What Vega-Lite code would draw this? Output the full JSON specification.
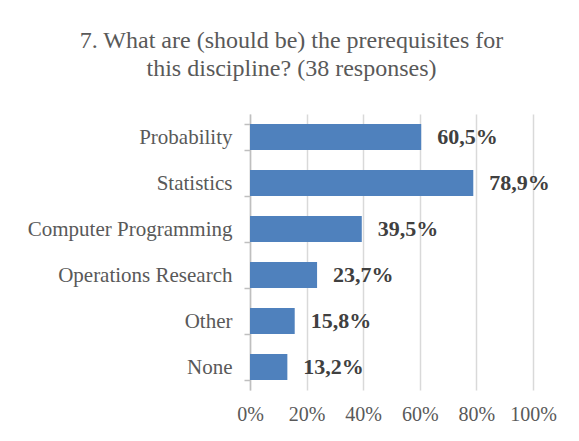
{
  "$schema": "https://vega.github.io/schema/vega-lite/v6.json",
  "width": 283,
  "height": 276,
  "autosize": {"type": "none"},
  "padding": {"left": 250, "top": 114, "right": 46, "bottom": 51},
  "background": "white",
  "config": {
    "font": "Liberation Serif",
    "view": {"stroke": null},
    "locale": {"number": {"decimal": ",", "thousands": ".", "grouping": [3], "currency": ["", " €"]}}
  },
  "title": {
    "text": ["7. What are (should be) the prerequisites for", "this discipline? (38 responses)"],
    "font": "Liberation Serif",
    "fontSize": 24,
    "fontWeight": "normal",
    "color": "#595959",
    "lineHeight": 28,
    "anchor": "middle",
    "dx": -100,
    "offset": 22
  },
  "data": {
    "values": [
      {"category": "Probability", "share": 0.605},
      {"category": "Statistics", "share": 0.789},
      {"category": "Computer Programming", "share": 0.395},
      {"category": "Operations Research", "share": 0.237},
      {"category": "Other", "share": 0.158},
      {"category": "None", "share": 0.132}
    ]
  },
  "encoding": {
    "y": {
      "field": "category",
      "type": "nominal",
      "sort": null,
      "title": null,
      "scale": {"paddingInner": 0.43, "paddingOuter": 0.215},
      "axis": {
        "labelFont": "Liberation Serif",
        "labelFontSize": 21,
        "labelColor": "#595959",
        "labelPadding": 12,
        "labelLimit": 300,
        "domainColor": "#bfbfbf",
        "domainWidth": 1.5,
        "tickColor": "#bfbfbf",
        "tickWidth": 1.5,
        "tickSize": 6,
        "tickBand": "extent",
        "grid": false
      }
    },
    "x": {
      "field": "share",
      "type": "quantitative",
      "title": null,
      "scale": {"domain": [0, 1], "nice": false},
      "axis": {
        "format": ".0%",
        "values": [0, 0.2, 0.4, 0.6, 0.8, 1],
        "labelOverlap": false,
        "labelFlush": false,
        "labelFont": "Liberation Serif",
        "labelFontSize": 20,
        "labelColor": "#595959",
        "labelPadding": 14,
        "domain": false,
        "ticks": false,
        "grid": true,
        "gridColor": "#d9d9d9",
        "gridWidth": 1.5
      }
    }
  },
  "layer": [
    {"mark": {"type": "bar", "color": "#4f81bd"}},
    {
      "mark": {"type": "text", "align": "left", "baseline": "middle", "dx": 16, "font": "Liberation Serif", "fontSize": 22, "fontWeight": "bold", "color": "#404040"},
      "encoding": {"text": {"field": "share", "type": "quantitative", "format": ".1%"}}
    }
  ]
}
